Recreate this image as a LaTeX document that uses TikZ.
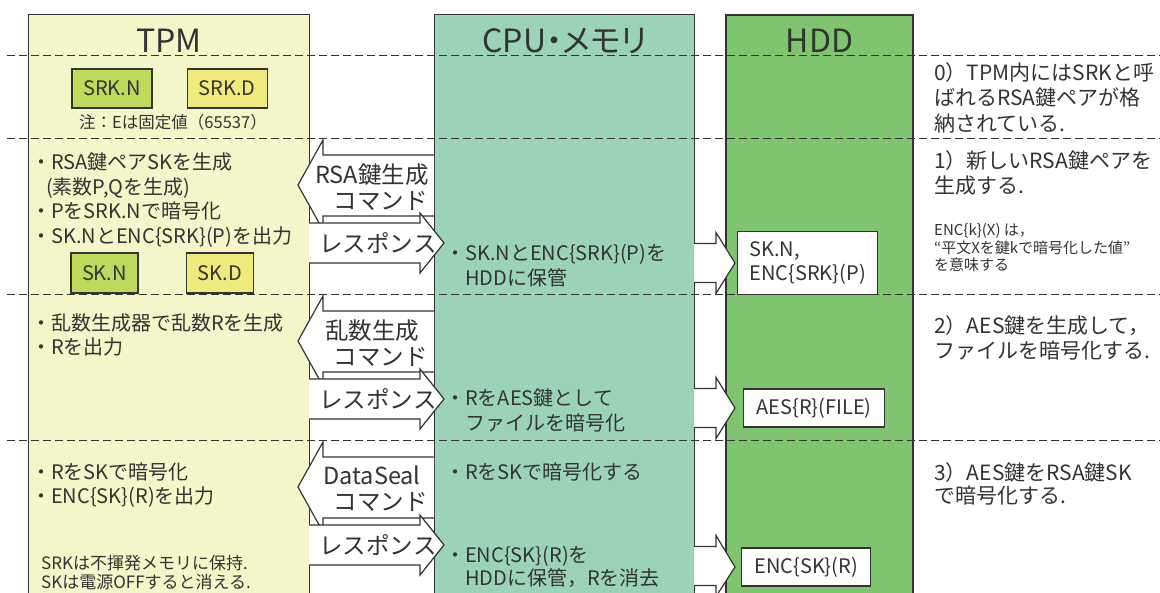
\documentclass[tikz,border=0pt]{standalone}
\usepackage{fontspec}
\setmainfont{Noto Sans CJK JP}
\usepackage{tikz}
\usetikzlibrary{positioning}

\definecolor{tpmfill}{HTML}{F4F5C9}
\definecolor{cpufill}{HTML}{9BD3B8}
\definecolor{hddfill}{HTML}{7FC46E}
\definecolor{nkey}{HTML}{BDDA5B}
\definecolor{dkey}{HTML}{EEEA7B}
\definecolor{ink}{HTML}{333333}

\tikzset{
  colbox/.style={draw=ink, line width=1.4pt, anchor=north west, inner sep=0pt, minimum height=640pt},
  colhead/.style={anchor=base, font=\fontsize{32}{36}\selectfont},
  keybox/.style={draw=ink, line width=1.3pt, minimum height=39pt, inner sep=0pt, font=\fontsize{20}{24}\selectfont},
  hddbox/.style={draw=ink, fill=white, line width=1.3pt, minimum height=38pt, anchor=west, inner sep=0pt, align=left, font=\fontsize{20}{24}\selectfont},
  blk/.style={draw=ink, fill=white, line width=1.2pt},
  lbl/.style={align=center, inner sep=0pt, font=\fontsize{23.5}{26}\selectfont},
  body/.style={anchor=west, inner sep=0pt, align=left, font=\fontsize{20}{24.7}\selectfont},
  notetext/.style={anchor=west, inner sep=0pt, align=left, font=\fontsize{15}{17.5}\selectfont},
  rowline/.style={draw=ink, line width=1pt, dash pattern=on 7.5pt off 4.5pt},
}

\begin{document}
\begin{tikzpicture}[x=1pt, y=-1pt, every node/.append style={text=ink}]
\useasboundingbox (0,0) rectangle (1160,593);
\clip (0,0) rectangle (1160,593);

% columns
\node[colbox, fill=tpmfill, minimum width=281pt] (tpm) at (28,14) {};
\node[colbox, fill=cpufill, minimum width=260pt] (cpu) at (434,14) {};
\node[colbox, fill=hddfill, minimum width=187pt, line width=2pt] (hdd) at (725,14) {};
\node[colhead] (tpmtitle) at (tpm.north |- 0,53) {TPM};
\node[colhead] (cputitle) at (cpu.north |- 0,53) {\addfontfeature{RawFeature=+palt}CPU・メモリ};
\node[colhead] (hddtitle) at (hdd.north |- 0,53) {HDD};

% 0) keys in the TPM
\node[keybox, fill=nkey, minimum width=80pt] (srkn) at (112,88.5) {SRK.N};
\node[keybox, fill=dkey, minimum width=80pt, right=34pt of srkn] (srkd) {SRK.D};
\node[font=\fontsize{16.5}{20}\selectfont] (fixe) at (173,122) {注：Eは固定値（65537）};

% 1) new RSA key pair
\node[body] (tpm1) at (31,200) {・RSA鍵ペアSKを生成\\\hspace*{0.75em}(素数P,Qを生成)\\・PをSRK.Nで暗号化\\・SK.NとENC\{SRK\}(P)を出力};
\node[keybox, fill=nkey, minimum width=67pt, minimum height=40pt] (skn) at (104.5,273) {SK.N};
\node[keybox, fill=dkey, minimum width=67pt, minimum height=40pt, right=47pt of skn] (skd) {SK.D};
\node[body, font=\fontsize{20}{25}\selectfont] (cpu1) at (445,265.5) {・SK.NとENC\{SRK\}(P)を\\\hspace*{1em}HDDに保管};
\node[hddbox, minimum width=140pt, minimum height=63pt] (k1) at (737,263) {SK.N,\\ENC\{SRK\}(P)};

% 2) AES key
\node[body, font=\fontsize{20}{24}\selectfont] (tpm2) at (31,335) {・乱数生成器で乱数Rを生成\\・Rを出力};
\node[body, font=\fontsize{20}{25}\selectfont] (cpu2) at (445,410.5) {・RをAES鍵として\\\hspace*{1em}ファイルを暗号化};
\node[hddbox, minimum width=141pt] (k2) at (743,408) {AES\{R\}(FILE)};

% 3) seal R with SK
\node[body, font=\fontsize{20}{24}\selectfont] (tpm3) at (31,485) {・RをSKで暗号化\\・ENC\{SK\}(R)を出力};
\node[body, font=\fontsize{17}{19}\selectfont] (tpmnote) at (41,572.5) {SRKは不揮発メモリに保持.\\SKは電源OFFすると消える.};
\node[body] (cpu3) at (445,472) {・RをSKで暗号化する};
\node[body, font=\fontsize{20}{23}\selectfont] (cpu4) at (445,566.5) {・ENC\{SK\}(R)を\\\hspace*{1em}HDDに保管，Rを消去};
\node[hddbox, minimum width=129pt] (k3) at (741,567) {ENC\{SK\}(R)};

% steps on the right
\node[body, font=\fontsize{21}{25.5}\selectfont] (step0) at (934,97.5) {0）TPM内にはSRKと呼\\ばれるRSA鍵ペアが格\\納されている.};
\node[body, font=\fontsize{21}{25}\selectfont] (step1) at (934,172.5) {1）新しいRSA鍵ペアを\\生成する.};
\node[notetext] (encnote) at (934,247.5) {ENC\{k\}(X) は，\\“平文Xを鍵kで暗号化した値”\\を意味する};
\node[body, font=\fontsize{21}{25}\selectfont] (step2) at (934,337.5) {2）AES鍵を生成して，\\ファイルを暗号化する.};
\node[body, font=\fontsize{21}{23}\selectfont] (step3) at (934,483.5) {3）AES鍵をRSA鍵SK\\で暗号化する.};

% command / response arrows
\foreach \y/\cmd in {139/RSA鍵生成, 295/乱数生成, 441/DataSeal}{
  \draw[blk] (434,\y+16) -- (323,\y+16) -- (323,\y+1) -- (298,\y+46) -- (323,\y+91) -- (323,\y+77) -- (434,\y+77);
  \node[lbl] (cmd\y) at (372,\y+48) {\cmd\\\hspace*{0.75em}コマンド};
  \draw[blk] (309,\y+84) -- (420,\y+84) -- (420,\y+74) -- (444,\y+104) -- (420,\y+134) -- (420,\y+124) -- (309,\y+124);
  \node[lbl] (res\y) at (378,\y+104) {レスポンス};
}

% CPU to HDD
\draw[blk] (694,243.5) -- (716,243.5) -- (716,232.5) -- ([xshift=-2pt]k1.west) -- (716,293.5) -- (716,282.5) -- (694,282.5);
\draw[blk] (694,388.5) -- (716,388.5) -- (716,377.5) -- ([xshift=-8pt]k2.west) -- (716,438.5) -- (716,427.5) -- (694,427.5);
\draw[blk] (694,546.5) -- (716,546.5) -- (716,535.5) -- ([xshift=-6pt]k3.west) -- (716,596.5) -- (716,585.5) -- (694,585.5);

\foreach \y in {56,139,295,441}
  \draw[rowline] (7,\y) -- (1160,\y);
\end{tikzpicture}
\end{document}
